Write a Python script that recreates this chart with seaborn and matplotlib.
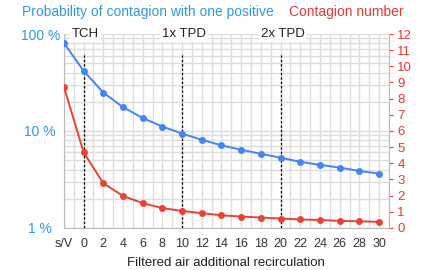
import numpy as np
import pandas as pd
import seaborn as sns
import matplotlib.pyplot as plt
from matplotlib.ticker import FixedLocator, NullFormatter

# Values
categories = ["s/V", "0", "2", "4", "6", "8", "10", "12", "14", "16",
              "18", "20", "22", "24", "26", "28", "30"]
probability = [80.7, 41.7, 24.9, 17.6, 13.6, 11.1, 9.4, 8.1, 7.1, 6.4,
               5.8, 5.3, 4.8, 4.47, 4.19, 3.87, 3.63]
contagion = [8.74, 4.68, 2.76, 1.98, 1.53, 1.22, 1.05, 0.91, 0.78, 0.70,
             0.64, 0.58, 0.52, 0.49, 0.43, 0.41, 0.37]
markers_at = [0, 10, 20]
marker_labels = ["TCH", "1x TPD", "2x TPD"]

# "s/V" (no ventilation) sits one step left of 0
x = [-2] + [int(c) for c in categories[1:]]
data = pd.DataFrame({"x": x, "prob": probability, "cont": contagion})

sns.set_style("white")
plt.rcParams['font.family'] = ['Liberation Sans', 'DejaVu Sans']

blue = "#4285f4"
red = "#ea4335"
blue_txt = "#2d9bdb"
red_txt = "#e53935"

fig = plt.figure(figsize=(4.26, 2.70), dpi=100)
ax = fig.add_axes([0.150, 0.156, 0.763, 0.718])
ax2 = ax.twinx()

ax.set_yscale("log")
ax.set_ylim(1, 100)
ax.set_xlim(-2, 31)
ax2.set_ylim(0, 12)

# grid
ax.xaxis.set_minor_locator(FixedLocator(np.arange(-2, 32, 1)))
ax.grid(True, which="both", axis="x", color="#dddddd", lw=1)
ax.grid(True, which="both", axis="y", color="#dddddd", lw=1)
ax.yaxis.set_minor_formatter(NullFormatter())

sns.lineplot(data=data, x="x", y="prob", ax=ax, color=blue, marker="o",
             markersize=5, markeredgewidth=0, lw=1.4, zorder=4)
sns.lineplot(data=data, x="x", y="cont", ax=ax2, color=red, marker="o",
             markersize=5, markeredgewidth=0, lw=1.4, zorder=4)

for xv in markers_at:
    ax.axvline(xv, ymin=0, ymax=0.9, color="black", lw=0.9, ls=(0, (2, 1.5)), zorder=3)
for xv, lab in zip(markers_at, marker_labels):
    ax.text(xv + 0.2, 100, lab, ha="center", va="center", fontsize=9.5,
            color="#222222", zorder=6,
            bbox=dict(boxstyle="square,pad=0.15", fc="white", ec="none"))

ax.set_xticks(x)
ax.set_xticklabels(categories)
ax.set_yticks([1, 10, 100])
ax.set_yticklabels(["1 %", "10 %", "100 %"])
for lab in ax.get_yticklabels():
    lab.set_ha("center")
ax.tick_params(axis="y", which="both", colors=blue_txt, labelsize=10, length=0, pad=17)
ax.tick_params(axis="x", which="both", colors="#333333", labelsize=9, length=0, pad=7)

ax2.set_yticks(range(0, 13))
ax2.tick_params(axis="y", colors=red_txt, labelsize=9.5, length=3, width=0.8, pad=3)
for t in ax2.yaxis.get_ticklines():
    t.set_color("#bbbbbb")
ax2.grid(False)

ax.set_xlabel("Filtered air additional recirculation", fontsize=9.5, color="#222222", labelpad=5)
ax.set_ylabel("")
ax2.set_ylabel("")

for a in (ax, ax2):
    for s in a.spines.values():
        s.set_visible(False)
ax.spines["left"].set_visible(True)
ax.spines["left"].set_color("#bbbbbb")
ax.spines["bottom"].set_visible(True)
ax.spines["bottom"].set_color("#bbbbbb")
ax2.spines["right"].set_visible(True)
ax2.spines["right"].set_color("#bbbbbb")

fig.text(0.052, 0.957, "Probability of contagion with one positive", color=blue_txt,
         fontsize=10, ha="left", va="center")
fig.text(0.678, 0.957, "Contagion number", color=red_txt,
         fontsize=10, ha="left", va="center")

fig.savefig("out.png", dpi=100)
